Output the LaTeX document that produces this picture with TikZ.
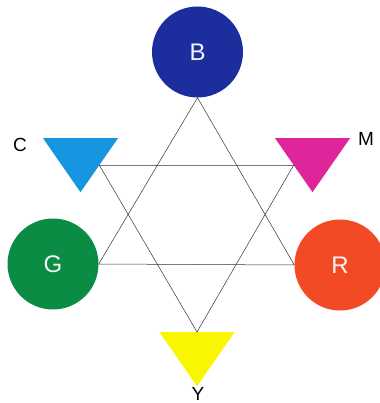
\documentclass[tikz,border=0pt]{standalone}
\usepackage{fontspec}
\setmainfont{Liberation Sans}
\usetikzlibrary{shapes.geometric}
\definecolor{blueB}{RGB}{28,46,158}
\definecolor{greenG}{RGB}{10,140,68}
\definecolor{redR}{RGB}{242,74,36}
\definecolor{cyanC}{RGB}{22,150,224}
\definecolor{magM}{RGB}{222,38,154}
\definecolor{yelY}{RGB}{250,245,0}
\begin{document}
\begin{tikzpicture}[
  x=1pt,y=-1pt,
  light/.style={circle,inner sep=0pt,minimum size=91pt,text=white!92!gray,font=\fontsize{24}{24}\selectfont},
  pigment/.style={isosceles triangle,shape border rotate=-90,isosceles triangle stretches,
    minimum width=75pt,minimum height=54pt,inner sep=0pt,anchor=lower side},
  tag/.style={inner sep=0pt,font=\fontsize{19}{19}\selectfont},
  star/.style={draw=black!80,line width=0.5pt}
]
  \useasboundingbox (0,0) rectangle (379,403);

  \node[light,fill=blueB]  (B) at (197.5,52) {B};
  \node[light,fill=greenG] (G) at (53,264)   {G};
  \node[light,fill=redR]   (R) at (340,265)  {R};

  \node[pigment,fill=cyanC] (C) at (80.5,138) {};
  \node[pigment,fill=magM]  (M) at (312.5,138) {};
  \node[pigment,fill=yelY]  (Y) at (197,332) {};

  \node[tag] (Ctag) at (20,145) {C};
  \node[tag] (Mtag) at (366,138.5) {M};
  \node[tag,anchor=north] (Ytag) at (198,387) {Y};

  % the two triangles of the star
  \draw[star] (B.south) -- (G.east) -- (R.west) -- cycle;
  \draw[star] (C.left side) -- (M.right side) -- (Y.lower side) -- cycle;
\end{tikzpicture}
\end{document}
